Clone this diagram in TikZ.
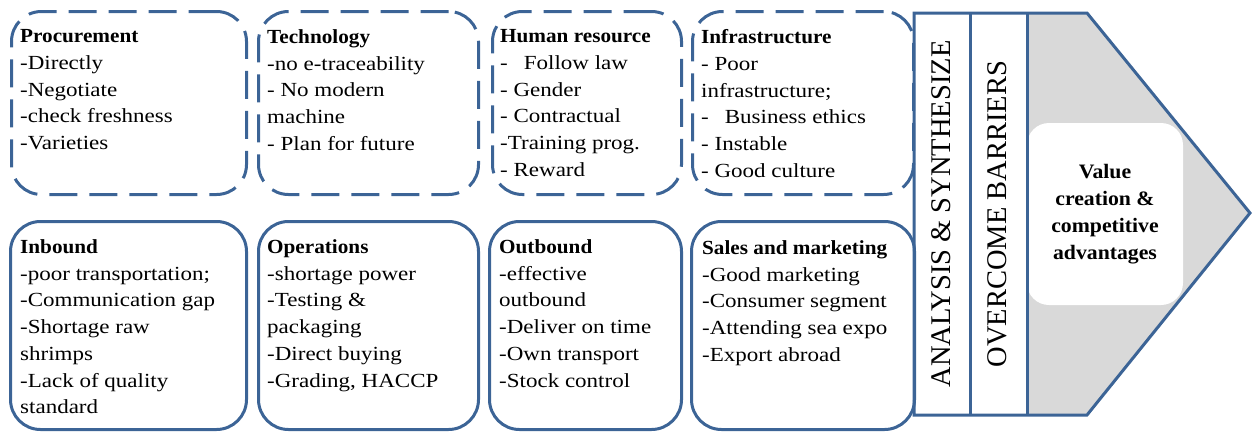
\documentclass[tikz,border=0pt]{standalone}
\usepackage{fontspec}
\setmainfont{Liberation Serif}
\newfontfamily\bodyfont[FakeStretch=1.15]{Liberation Serif}
\newfontfamily\headfont[FakeStretch=1.06]{Liberation Serif}
\definecolor{vcblue}{RGB}{60,100,150}
\definecolor{vcgray}{RGB}{217,217,217}
\tikzset{
  primarybox/.style={draw=vcblue, line width=3pt, rounded corners=30pt,
    inner sep=0pt, anchor=north west},
  supportbox/.style={primarybox, dash pattern=on 28pt off 12pt},
  itemtext/.style={anchor=north west, inner sep=0pt, align=left,
    font=\bodyfont\fontsize{20}{26.7}\selectfont},
  stagetext/.style={rotate=90, inner sep=0pt,
    font=\rmfamily\fontsize{28.5}{30}\selectfont},
  valuebox/.style={fill=white, rounded corners=22pt, inner sep=0pt,
    minimum width=156pt, minimum height=182pt, align=center,
    font=\headfont\bfseries\fontsize{20.5}{27}\selectfont},
}
\newcommand{\boxhead}[1]{{\headfont\bfseries #1}}
\begin{document}
\begin{tikzpicture}[x=1pt, y=-1pt]
\useasboundingbox (0,0) rectangle (1257,431);

% support activities (dashed)
\node[supportbox, minimum width=235pt, minimum height=183pt] (proc) at (10,10) {};
\node[supportbox, minimum width=220pt, minimum height=183pt] (tech) at (257,10) {};
\node[supportbox, minimum width=189pt, minimum height=183pt] (hr) at (491,10) {};
\node[supportbox, minimum width=221pt, minimum height=183pt] (infra) at (691,10) {};

% primary activities (solid)
\node[primarybox, minimum width=236pt, minimum height=208pt] (inb) at (9,220) {};
\node[primarybox, minimum width=220pt, minimum height=208pt] (ops) at (257,220) {};
\node[primarybox, minimum width=192pt, minimum height=208pt] (outb) at (488,220) {};
\node[primarybox, minimum width=223pt, minimum height=208pt] (sales) at (690,220) {};

% box contents
\node[itemtext] (procT) at (20,29.5) {\boxhead{Procurement}\\-Directly\\-Negotiate\\-check freshness\\-Varieties};
\node[itemtext] (techT) at (267,29.5) {\boxhead{Technology}\\-no e-traceability\\- No modern\\machine\\- Plan for future};
\node[itemtext] (hrT) at (500,29.5) {\boxhead{Human resource}\\-\hspace{16pt}Follow law\\- Gender\\- Contractual\\-Training prog.\\- Reward};
\node[itemtext] (infraT) at (701,29.5) {\boxhead{Infrastructure}\\- Poor\\infrastructure;\\-\hspace{16pt}Business ethics\\- Instable\\- Good culture};

\node[itemtext] (inbT) at (20,239.5) {\boxhead{Inbound}\\-poor transportation;\\-Communication gap\\-Shortage raw\\shrimps\\-Lack of quality\\standard};
\node[itemtext] (opsT) at (267,239.5) {\boxhead{Operations}\\-shortage power\\-Testing \&\\packaging\\-Direct buying\\-Grading, HACCP};
\node[itemtext] (outbT) at (499,239.5) {\boxhead{Outbound}\\-effective\\outbound\\-Deliver on time\\-Own transport\\-Stock control};
\node[itemtext] (salesT) at (702,240.5) {\boxhead{Sales and marketing}\\-Good marketing\\-Consumer segment\\-Attending sea expo\\-Export abroad};

% margin arrow
\coordinate (pTL) at (914,13);
\coordinate (pTR) at (1087,13);
\coordinate (pTip) at (1250,213);
\coordinate (pBR) at (1087,415);
\coordinate (pBL) at (914,415);
\coordinate (d1T) at (970,13);
\coordinate (d1B) at (970,415);
\coordinate (d2T) at (1027,13);
\coordinate (d2B) at (1027,415);

\fill[vcgray] (d2T) -- (pTR) -- (pTip) -- (pBR) -- (d2B) -- cycle;
\node[valuebox] (value) at (1105,214) {Value\\creation \&\\competitive\\advantages};
\draw[vcblue, line width=3pt, line join=miter] (pTL) -- (pTR) -- (pTip) -- (pBR) -- (pBL) -- cycle;
\draw[vcblue, line width=3pt] (d1T) -- (d1B);
\draw[vcblue, line width=3pt] (d2T) -- (d2B);

\node[stagetext] (analysis) at (941,214) {ANALYSIS \& SYNTHESIZE};
\node[stagetext] (barriers) at (997,214) {OVERCOME BARRIERS};
\end{tikzpicture}
\end{document}
